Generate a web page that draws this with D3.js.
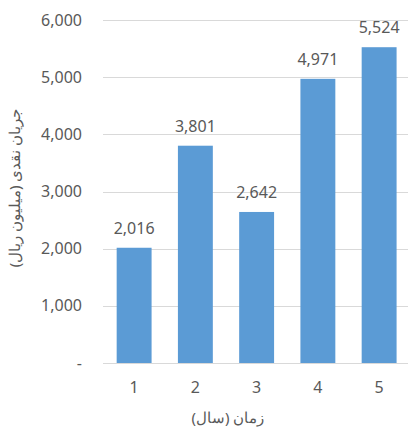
<!DOCTYPE html>
<html><head><meta charset="utf-8">
<script src="https://cdn.jsdelivr.net/npm/d3@7"></script>
<style>body{margin:0;background:#fff}svg{display:block}</style>
</head><body>
<script>
const categories = ["1","2","3","4","5"];
const values = [2016, 3801, 2642, 4971, 5524];
const yTicks = [0,1000,2000,3000,4000,5000,6000];
const yTitle = "جریان نقدی (میلیون ریال)";
const xTitle = "زمان (سال)";

const W = 408, H = 429;
const font = "'Noto Sans', 'Open Sans', sans-serif";
const txt = "#595959";
const svg = d3.select("body").append("svg").attr("width", W).attr("height", H);

const y = d3.scaleLinear().domain([0, 6000]).range([363, 20]);
const x = d3.scaleBand().domain(categories).range([103.5, 409.75]).paddingInner(0.43).paddingOuter(0.215);

// gridlines
svg.append("g").selectAll("line").data(yTicks).join("line")
  .attr("x1", 103).attr("x2", W)
  .attr("y1", d => Math.round(y(d)) + 0.5).attr("y2", d => Math.round(y(d)) + 0.5)
  .attr("stroke", "#d9d9d9").attr("stroke-width", 1);

// y tick labels
const fmt = d3.format(",");
svg.append("g").selectAll("text").data(yTicks).join("text")
  .attr("x", 82).attr("y", d => y(d)).attr("dy", "0.35em")
  .attr("text-anchor", "end").attr("font-family", font).attr("font-size", 16).attr("fill", txt)
  .text(d => d === 0 ? "-" : fmt(d));

// bars
svg.append("g").selectAll("rect").data(values).join("rect")
  .attr("x", (d, i) => x(categories[i])).attr("width", x.bandwidth())
  .attr("y", d => y(d)).attr("height", d => y(0) - y(d))
  .attr("fill", "#5b9bd5");

// baseline
svg.append("line").attr("x1", 103).attr("x2", W)
  .attr("y1", Math.round(y(0)) + 0.5).attr("y2", Math.round(y(0)) + 0.5)
  .attr("stroke", "#d9d9d9").attr("stroke-width", 1);

// value labels
svg.append("g").selectAll("text").data(values).join("text")
  .attr("x", (d, i) => x(categories[i]) + x.bandwidth() / 2).attr("y", d => y(d) - 14)
  .attr("text-anchor", "middle").attr("font-family", font).attr("font-size", 16).attr("fill", txt)
  .text(d => fmt(d));

// x tick labels
svg.append("g").selectAll("text").data(categories).join("text")
  .attr("x", d => x(d) + x.bandwidth() / 2).attr("y", 393)
  .attr("text-anchor", "middle").attr("font-family", font).attr("font-size", 16).attr("fill", txt)
  .text(d => d);

// axis titles
svg.append("text").attr("x", 228).attr("y", 423).attr("text-anchor", "middle")
  .attr("font-family", font).attr("font-size", 15).attr("fill", txt).attr("direction", "rtl")
  .text(xTitle);
svg.append("text").attr("transform", "translate(20,188) rotate(-90)").attr("text-anchor", "middle")
  .attr("font-family", font).attr("font-size", 15).attr("fill", txt)
  .text(yTitle);
</script>
</body></html>
